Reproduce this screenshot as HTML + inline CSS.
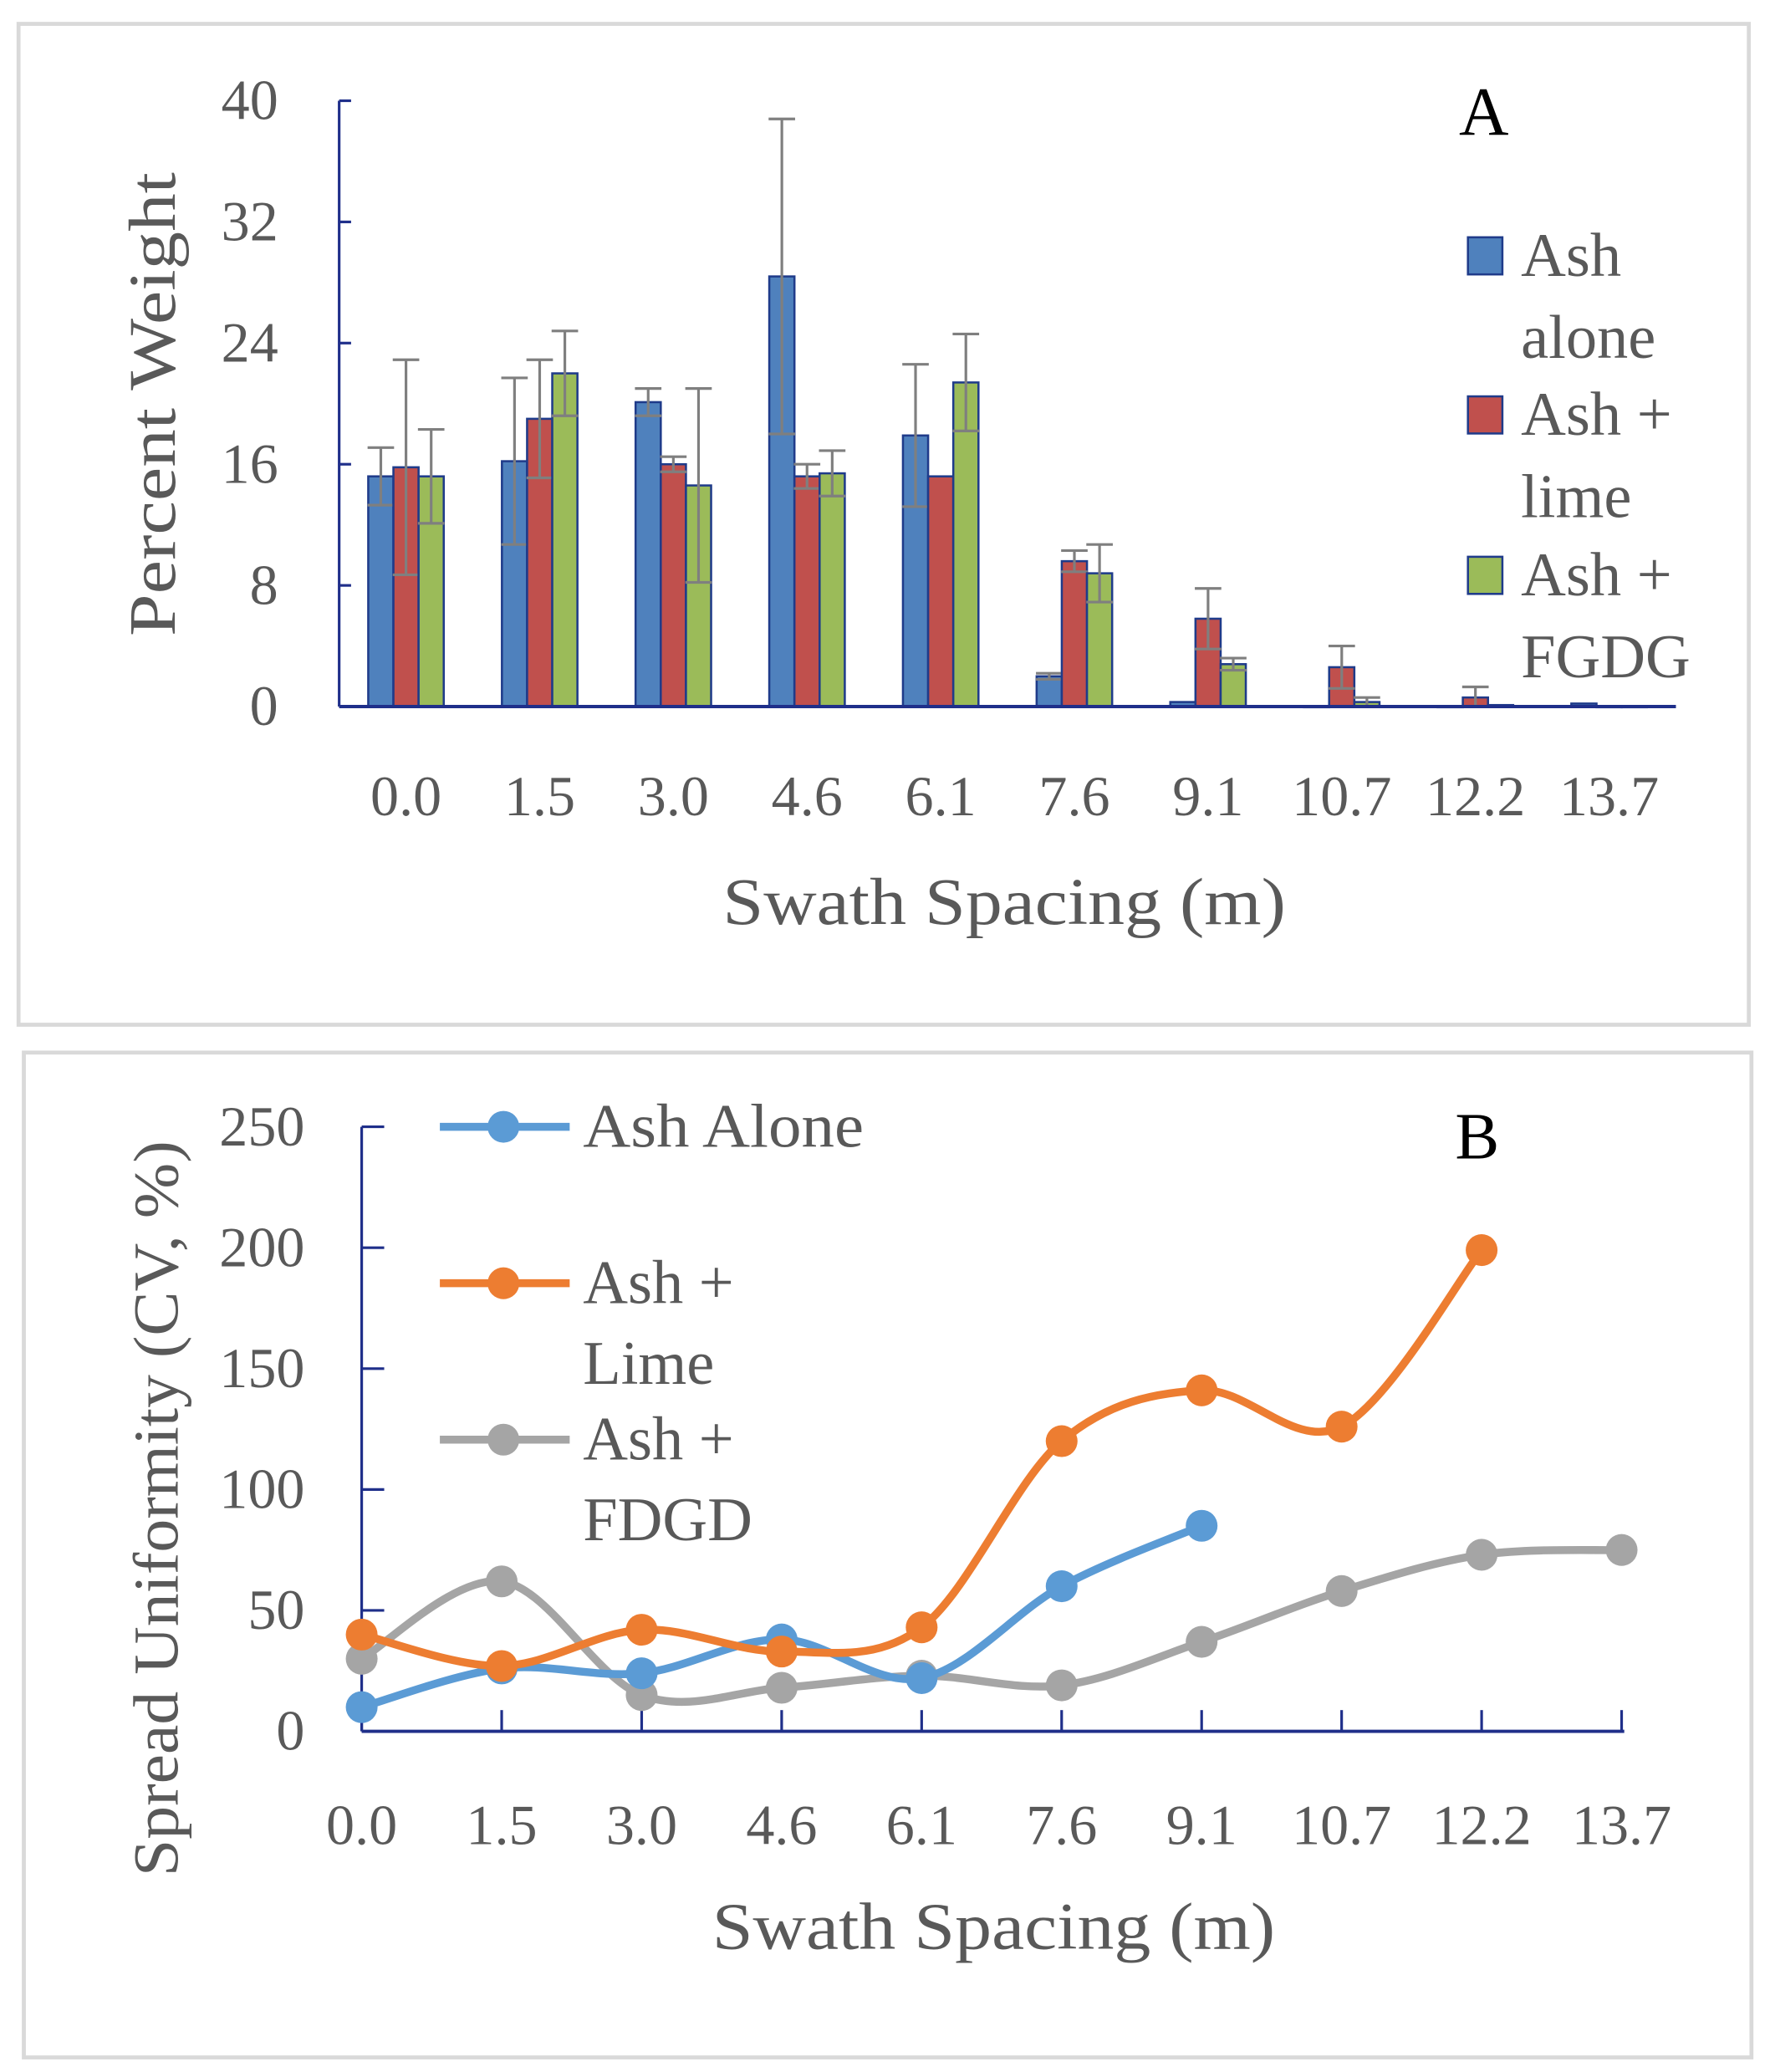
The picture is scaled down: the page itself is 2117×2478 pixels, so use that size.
<!DOCTYPE html>
<html><head><meta charset="utf-8"><style>
html,body{margin:0;padding:0;background:#fff;}
svg{display:block;}
text{font-family:"Liberation Serif",serif;}
</style></head><body>
<svg id="s" width="2117" height="2478" viewBox="0 0 1336 1563" preserveAspectRatio="none" xmlns="http://www.w3.org/2000/svg">
<rect x="14" y="18" width="1306" height="755" fill="#fff" stroke="#d9d9d9" stroke-width="3"/>
<rect x="18" y="794" width="1304" height="758" fill="#fff" stroke="#d9d9d9" stroke-width="3"/>
<g id="ga"></g>
<g id="gb"></g>
</svg>
<script>
const catsA=["0.0","1.5","3.0","4.6","6.1","7.6","9.1","10.7","12.2","13.7"];
const ashAlone=[15.2,16.2,20.1,28.4,17.9,2.0,0.3,0,0,0.2];
const ashLime=[15.8,19.0,16.0,15.2,15.2,9.6,5.8,2.6,0.6,0];
const ashFGDG=[15.2,22.0,14.6,15.4,21.4,8.8,2.8,0.3,0.1,0];
const errAlone=[1.9,5.5,0.9,10.4,4.7,0.2,0,0,0,0];
const errLime=[7.1,3.9,0.5,0.8,0,0.7,2.0,1.4,0.7,0];
const errFGDG=[3.1,2.8,6.4,1.5,3.2,1.9,0.4,0.3,0,0];
const ticksA=[0,8,16,24,32,40];
const catsB=["0.0","1.5","3.0","4.6","6.1","7.6","9.1","10.7","12.2","13.7"];
const cvAlone=[10,26,24,38,22,60,85];
const cvLime=[40,27,42,33,43,120,141,126,199];
const cvFDGD=[30,62,15,18,23,19,37,58,73,75];
const ticksB=[0,50,100,150,200,250];

const NS="http://www.w3.org/2000/svg";
function mk(p,tag,at,txt){const e=document.createElementNS(NS,tag);for(const k in at)e.setAttribute(k,at[k]);if(txt!=null)e.textContent=txt;p.appendChild(e);return e;}
const AX="#1f2f8a",TX="#595959";

// Panel A
const ga=document.getElementById('ga');
const ax0=256,ax1=1265,ay0=533,ay1=76;
const yA=v=>ay0-(v/40)*(ay0-ay1);
const step=(ax1-ax0)/catsA.length;
const xA=i=>ax0+step*(i+0.5);
let e;
e=mk(ga,'line',{x1:ax0,y1:ay0,x2:ax0,y2:ay1,stroke:AX,'stroke-width':2});

ticksA.forEach(t=>{
 e=mk(ga,'line',{x1:ax0,y1:yA(t),x2:ax0+9,y2:yA(t),stroke:AX,'stroke-width':2});
 
 e=mk(ga,'text',{x:210,y:yA(t)+14,'text-anchor':'end','font-size':43,fill:TX},String(t));
 
});
const seriesA=[[ashAlone,errAlone,"#4f81bd"],[ashLime,errLime,"#c0504d"],[ashFGDG,errFGDG,"#9bbb59"]];
const bw=19;
catsA.forEach((c,i)=>{
 seriesA.forEach((s,k)=>{
  const v=s[0][i],cx=xA(i)+(k-1)*bw;
  e=mk(ga,'rect',{x:cx-bw/2,y:yA(v),width:bw,height:Math.max(0.5,ay0-yA(v)),fill:s[2],stroke:"#1f3b8a",'stroke-width':1.6});
  
  const er=s[1][i];
  if(er>0){
   const g=mk(ga,'g',{stroke:"#7f7f7f",'stroke-width':2});
   
   mk(g,'line',{x1:cx,y1:yA(v-er),x2:cx,y2:yA(v+er)});
   mk(g,'line',{x1:cx-10,y1:yA(v+er),x2:cx+10,y2:yA(v+er)});
   mk(g,'line',{x1:cx-10,y1:yA(Math.max(0,v-er)),x2:cx+10,y2:yA(Math.max(0,v-er))});
  }
 });
 e=mk(ga,'text',{x:xA(i),y:615,'text-anchor':'middle','font-size':43,fill:TX},c);
 
});
e=mk(ga,'line',{x1:ax0,y1:ay0,x2:ax1,y2:ay0,stroke:AX,'stroke-width':2.5});

e=mk(ga,'text',{x:0,y:0,transform:'translate(132,305) rotate(-90)','text-anchor':'middle','font-size':50,fill:TX,textLength:350,lengthAdjust:'spacingAndGlyphs'},'Percent Weight');

e=mk(ga,'text',{x:758,y:697,'text-anchor':'middle','font-size':50,fill:TX,textLength:425,lengthAdjust:'spacingAndGlyphs'},'Swath Spacing (m)');

e=mk(ga,'text',{x:1120,y:102,'text-anchor':'middle','font-size':52,fill:'#000'},'A');

const legA=[["Ash","alone","#4f81bd",193],["Ash +","lime","#c0504d",313],["Ash +","FGDG","#9bbb59",434]];
legA.forEach(l=>{
 e=mk(ga,'rect',{x:1108,y:l[3]-14,width:26,height:28,fill:l[2],stroke:"#1f3b8a",'stroke-width':1.6});
 
 e=mk(ga,'text',{x:1148,y:l[3]+15,'font-size':47,fill:TX},l[0]);
 
 e=mk(ga,'text',{x:1148,y:l[3]+77,'font-size':47,fill:TX},l[1]);
 
});

// Panel B
const gb=document.getElementById('gb');
const bx0=273,bx1=1226,by0=1306,by1=850;
const yB=v=>by0-(v/250)*(by0-by1);
const xB=i=>bx0+i*(1224-bx0)/9;
e=mk(gb,'line',{x1:bx0,y1:by0,x2:bx0,y2:by1,stroke:AX,'stroke-width':2});

ticksB.forEach(t=>{
 e=mk(gb,'line',{x1:bx0,y1:yB(t),x2:bx0+17,y2:yB(t),stroke:AX,'stroke-width':2});
 
 e=mk(gb,'text',{x:230,y:yB(t)+14,'text-anchor':'end','font-size':43,fill:TX},String(t));
 
});
e=mk(gb,'line',{x1:bx0,y1:by0,x2:bx1,y2:by0,stroke:AX,'stroke-width':2.5});

catsB.forEach((c,i)=>{
 e=mk(gb,'line',{x1:xB(i),y1:by0,x2:xB(i),y2:by0-16,stroke:AX,'stroke-width':2});
 
 e=mk(gb,'text',{x:xB(i),y:1391,'text-anchor':'middle','font-size':43,fill:TX},c);
 
});
function smooth(pts){let d='M'+pts[0][0]+','+pts[0][1];
 for(let i=0;i<pts.length-1;i++){const p0=pts[i-1]||pts[i],p1=pts[i],p2=pts[i+1],p3=pts[i+2]||p2;
  const c1=[p1[0]+(p2[0]-p0[0])/6,p1[1]+(p2[1]-p0[1])/6],c2=[p2[0]-(p3[0]-p1[0])/6,p2[1]-(p3[1]-p1[1])/6];
  d+=' C'+c1+' '+c2+' '+p2;}return d;}
const seriesB=[[cvFDGD,"#a5a5a5","fdgd"],[cvAlone,"#5b9bd5","alone"],[cvLime,"#ed7d31","lime"]];
seriesB.forEach(s=>{
 const pts=s[0].map((v,i)=>[xB(i),yB(v)]);
 e=mk(gb,'path',{d:smooth(pts),fill:'none',stroke:s[1],'stroke-width':6,'stroke-linecap':'round'});
 
 pts.forEach(p=>{
  e=mk(gb,'circle',{cx:p[0],cy:p[1],r:12,fill:s[1]});
  
 });
});
const legB=[["Ash Alone",null,"#5b9bd5",850],["Ash +","Lime","#ed7d31",968],["Ash +","FDGD","#a5a5a5",1086]];
legB.forEach(l=>{
 e=mk(gb,'line',{x1:332,y1:l[3],x2:430,y2:l[3],stroke:l[2],'stroke-width':6});
 
 e=mk(gb,'circle',{cx:380,cy:l[3],r:12,fill:l[2]});
 
 const a={x:440,y:l[3]+15,'font-size':47,fill:TX};
 if(!l[1]){a.textLength=212;a.lengthAdjust='spacingAndGlyphs';}
 e=mk(gb,'text',a,l[0]);
 
 if(l[1]){e=mk(gb,'text',{x:440,y:l[3]+76,'font-size':47,fill:TX},l[1]);
 }
});
e=mk(gb,'text',{x:0,y:0,transform:'translate(134,1138) rotate(-90)','text-anchor':'middle','font-size':48,fill:TX,textLength:555,lengthAdjust:'spacingAndGlyphs'},'Spread Uniformity (CV, %)');

e=mk(gb,'text',{x:750,y:1470,'text-anchor':'middle','font-size':50,fill:TX,textLength:425,lengthAdjust:'spacingAndGlyphs'},'Swath Spacing (m)');

e=mk(gb,'text',{x:1115,y:874,'text-anchor':'middle','font-size':50,fill:'#000'},'B');

</script>
</body></html>
